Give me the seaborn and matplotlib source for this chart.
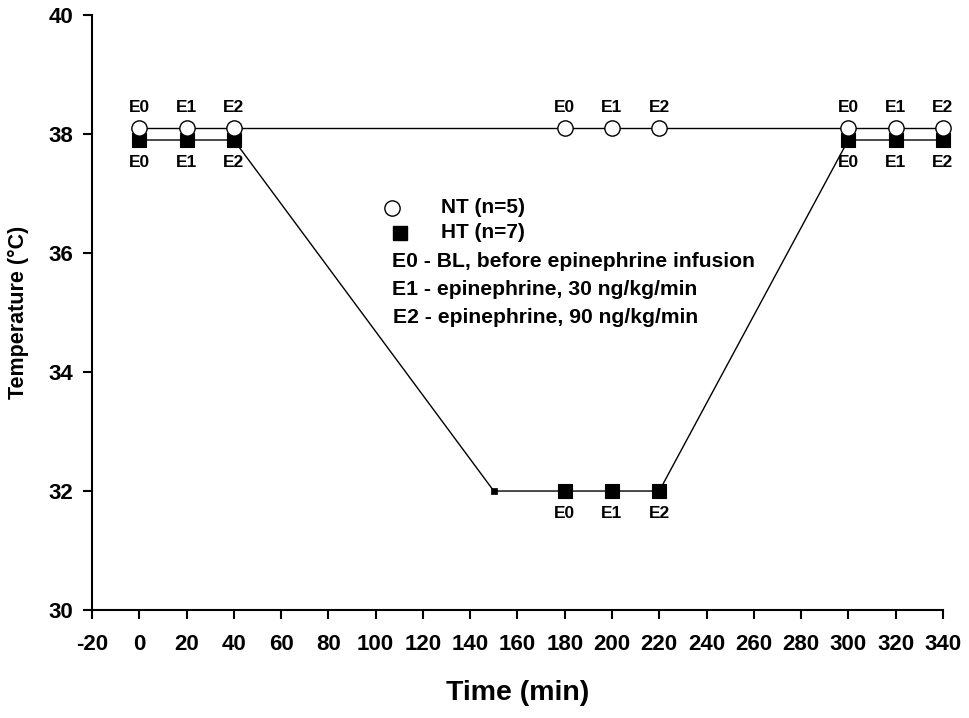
import matplotlib
matplotlib.use("Agg")
import matplotlib.pyplot as plt
import pandas as pd
import seaborn as sns

# values
time_nt = [0, 20, 40, 180, 200, 220, 300, 320, 340]
temp_nt = [38.1, 38.1, 38.1, 38.1, 38.1, 38.1, 38.1, 38.1, 38.1]
labels_nt = ["E0", "E1", "E2", "E0", "E1", "E2", "E0", "E1", "E2"]

time_ht = [0, 20, 40, 150, 180, 200, 220, 300, 320, 340]
temp_ht = [37.9, 37.9, 37.9, 32.0, 32.0, 32.0, 32.0, 37.9, 37.9, 37.9]
labels_ht = ["E0", "E1", "E2", "", "E0", "E1", "E2", "E0", "E1", "E2"]

x_ticks = list(range(-20, 341, 20))
y_ticks = [30, 32, 34, 36, 38, 40]

legend_lines = [
    "E0 - BL, before epinephrine infusion",
    "E1 - epinephrine, 30 ng/kg/min",
    "E2 - epinephrine, 90 ng/kg/min",
]

nt = pd.DataFrame({"time": time_nt, "temp": temp_nt, "label": labels_nt})
ht = pd.DataFrame({"time": time_ht, "temp": temp_ht, "label": labels_ht})

sns.set_style("ticks")
plt.rcParams["font.family"] = ["Liberation Sans", "DejaVu Sans"]
plt.rcParams["font.weight"] = "bold"
plt.rcParams["axes.unicode_minus"] = False
plt.rcParams["text.color"] = "black"
plt.rcParams["axes.labelcolor"] = "black"
plt.rcParams["xtick.color"] = "black"
plt.rcParams["ytick.color"] = "black"
plt.rcParams["axes.edgecolor"] = "black"

fig = plt.figure(figsize=(9.69, 7.18), dpi=100)
ax = fig.add_axes([0.095, 0.1504, 0.878, 0.8286])

# HT (squares), drawn first so the NT circles sit on top
sns.lineplot(data=ht, x="time", y="temp", color="black", lw=1.0,
             sort=False, estimator=None, ax=ax, zorder=2)
ht_main = ht[ht["label"] != ""]
ht_mid = ht[ht["label"] == ""]
sns.scatterplot(data=ht_main, x="time", y="temp", marker="s", s=9.8 ** 2,
                color="black", edgecolor="black", linewidth=0.8, ax=ax,
                zorder=3, clip_on=False)
sns.scatterplot(data=ht_mid, x="time", y="temp", marker="s", s=4.6 ** 2,
                color="black", edgecolor="black", linewidth=0.5, ax=ax,
                zorder=3, clip_on=False)

# NT (open circles)
sns.lineplot(data=nt, x="time", y="temp", color="black", lw=1.0,
             sort=False, estimator=None, ax=ax, zorder=4)
sns.scatterplot(data=nt, x="time", y="temp", marker="o", s=11 ** 2,
                color="white", edgecolor="black", linewidth=1.0, ax=ax,
                zorder=5, clip_on=False)

for _, r in nt.iterrows():
    ax.annotate(r["label"], (r["time"], r["temp"]), xytext=(0, 15),
                textcoords="offset points", ha="center", va="center",
                fontsize=12.5, fontweight="bold")
for _, r in ht.iterrows():
    if r["label"]:
        ax.annotate(r["label"], (r["time"], r["temp"]), xytext=(0, -16),
                    textcoords="offset points", ha="center", va="center",
                    fontsize=12.5, fontweight="bold")

# legend block drawn by hand
ax.plot([0.3525], [0.676], transform=ax.transAxes, marker="o", ms=11,
        mfc="white", mec="black", mew=1.0, ls="none", clip_on=False)
ax.plot([0.362], [0.634], transform=ax.transAxes, marker="s", ms=9.8,
        color="black", ls="none", clip_on=False)
ax.text(0.410, 0.676, "NT (n=5)", transform=ax.transAxes, va="center",
        fontsize=15, fontweight="bold")
ax.text(0.410, 0.634, "HT (n=7)", transform=ax.transAxes, va="center",
        fontsize=15, fontweight="bold")
for i, (txt, y) in enumerate(zip(legend_lines, [0.585, 0.538, 0.491])):
    ax.text(0.352 + 0.001 * i, y, txt, transform=ax.transAxes, va="center",
            fontsize=15.2, fontweight="bold")

ax.set_xlim(-20, 340)
ax.set_ylim(30, 40)
ax.set_xticks(x_ticks)
ax.set_yticks(y_ticks)
ax.tick_params(axis="both", direction="out", length=6.5, width=1.5,
               labelsize=16)
ax.tick_params(axis="x", pad=11)
ax.tick_params(axis="y", pad=7)
for lab in ax.get_xticklabels() + ax.get_yticklabels():
    lab.set_fontweight("bold")
sns.despine(ax=ax)
ax.spines["left"].set_linewidth(1.5)
ax.spines["bottom"].set_linewidth(1.5)

ax.set_xlabel("Time (min)", fontsize=20.5, fontweight="bold", labelpad=18)
ax.set_ylabel("Temperature (°C)", fontsize=15.5, fontweight="bold", labelpad=14)

fig.savefig("out.png", dpi=100)
